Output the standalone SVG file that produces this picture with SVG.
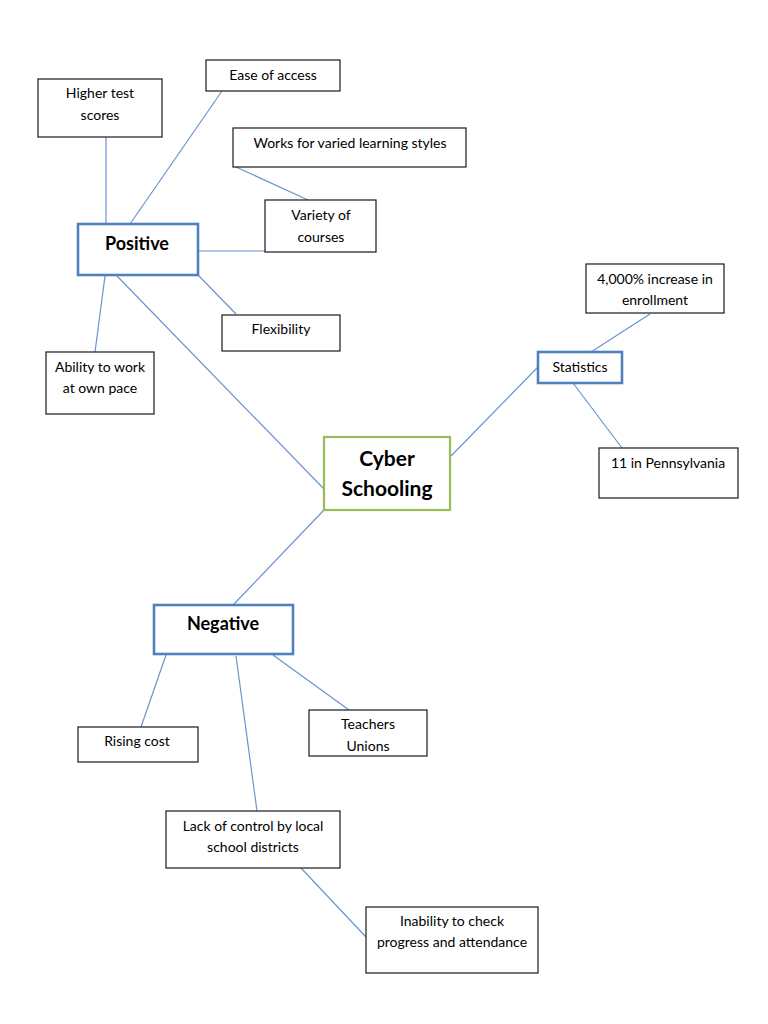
<svg xmlns="http://www.w3.org/2000/svg" width="768" height="1024" viewBox="0 0 768 1024">
<style>
.bg{fill:#fff}
.box{fill:#fff;stroke:#1a1a1a;stroke-width:1.2}
.hub{fill:#fff;stroke:#4f81bd;stroke-width:2.6}
.main{fill:#fff;stroke:#9bbb59;stroke-width:2.2}
.t{font-family:Lato,"Open Sans","Liberation Sans",sans-serif;font-size:14px;fill:#000;text-anchor:middle}
.h{font-family:Lato,"Open Sans","Liberation Sans",sans-serif;font-size:18px;font-weight:bold;fill:#000;text-anchor:middle}
.c{font-family:Lato,"Open Sans","Liberation Sans",sans-serif;font-size:21px;font-weight:bold;fill:#000;text-anchor:middle}
#connectors line{stroke:#6a94cc;stroke-width:1.2}
</style>
<rect class="bg" x="0" y="0" width="768" height="1024"/>
<g id="connectors">
<line x1="106" y1="137" x2="106" y2="224"/>
<line x1="222" y1="91" x2="130" y2="224"/>
<line x1="236" y1="167" x2="308" y2="200"/>
<line x1="198" y1="251" x2="273" y2="251"/>
<line x1="198" y1="275" x2="236" y2="314"/>
<line x1="105" y1="276" x2="95" y2="352"/>
<line x1="117" y1="276" x2="324" y2="489"/>
<line x1="451" y1="456" x2="538" y2="367"/>
<line x1="650" y1="314" x2="591" y2="352"/>
<line x1="573" y1="383" x2="622" y2="448"/>
<line x1="324" y1="510" x2="234" y2="604"/>
<line x1="166" y1="655" x2="141" y2="727"/>
<line x1="273" y1="655" x2="349" y2="710"/>
<line x1="236" y1="656" x2="257" y2="811"/>
<line x1="301" y1="868" x2="366" y2="937"/>
</g>
<g id="higher-test-scores"><rect class="box" x="38" y="79" width="124" height="58"/><text class="t" x="100" y="98">Higher test</text><text class="t" x="100" y="120">scores</text></g>
<g id="ease-of-access"><rect class="box" x="206" y="60" width="134" height="31"/><text class="t" x="273" y="80">Ease of access</text></g>
<g id="varied-learning"><rect class="box" x="233" y="128" width="233" height="39"/><text class="t" x="350" y="148">Works for varied learning styles</text></g>
<g id="variety-of-courses"><rect class="box" x="265" y="200" width="111" height="52"/><text class="t" x="321" y="220">Variety of</text><text class="t" x="321" y="242">courses</text></g>
<g id="positive"><rect class="hub" x="78" y="224" width="120" height="51"/><text class="h" x="137" y="250">Positive</text></g>
<g id="flexibility"><rect class="box" x="222" y="315" width="118" height="36"/><text class="t" x="281" y="334">Flexibility</text></g>
<g id="own-pace"><rect class="box" x="46" y="352" width="108" height="62"/><text class="t" x="100" y="372">Ability to work</text><text class="t" x="100" y="393">at own pace</text></g>
<g id="cyber-schooling"><rect class="main" x="324" y="437" width="126" height="73"/><text class="c" x="387" y="466">Cyber</text><text class="c" x="387" y="496">Schooling</text></g>
<g id="statistics"><rect class="hub" x="538" y="352" width="84" height="31"/><text class="t" x="580" y="372">Statistics</text></g>
<g id="increase"><rect class="box" x="586" y="264" width="138" height="49"/><text class="t" x="655" y="284">4,000% increase in</text><text class="t" x="655" y="305">enrollment</text></g>
<g id="pennsylvania"><rect class="box" x="599" y="448" width="139" height="50"/><text class="t" x="668" y="468">11 in Pennsylvania</text></g>
<g id="negative"><rect class="hub" x="154" y="605" width="139" height="49"/><text class="h" x="223" y="630">Negative</text></g>
<g id="rising-cost"><rect class="box" x="78" y="727" width="120" height="35"/><text class="t" x="137" y="746">Rising cost</text></g>
<g id="teachers-unions"><rect class="box" x="309" y="710" width="118" height="46"/><text class="t" x="368" y="729">Teachers</text><text class="t" x="368" y="751">Unions</text></g>
<g id="lack-of-control"><rect class="box" x="166" y="811" width="174" height="57"/><text class="t" x="253" y="831">Lack of control by local</text><text class="t" x="253" y="852">school districts</text></g>
<g id="inability"><rect class="box" x="366" y="907" width="172" height="66"/><text class="t" x="452" y="926">Inability to check</text><text class="t" x="452" y="947">progress and attendance</text></g>
</svg>
